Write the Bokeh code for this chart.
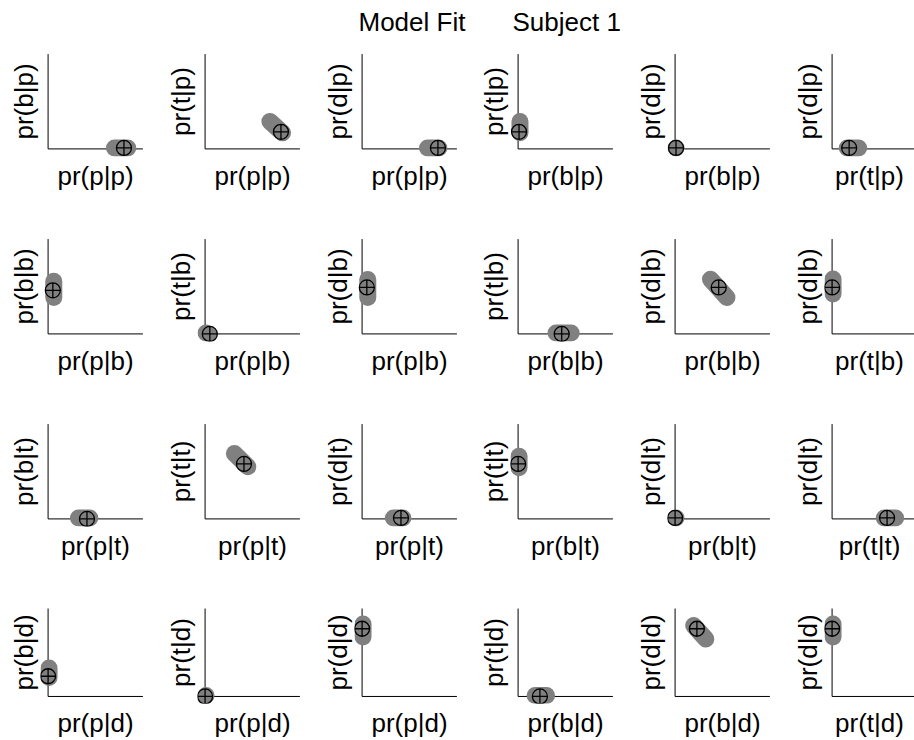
import math

from bokeh.core.properties import value
from bokeh.embed import file_html
from bokeh.layouts import column, gridplot
from bokeh.models import FixedTicker, Range1d
from bokeh.plotting import figure
from bokeh.resources import INLINE

# stimuli (one row each) and response pairs shown in each column (x, y)
stimuli = ["p", "b", "t", "d"]
responses = ["p", "b", "t", "d"]
pairs = [("p", "b"), ("p", "t"), ("p", "d"), ("b", "t"), ("b", "d"), ("t", "d")]

# fitted response probabilities pr(response | stimulus), responses in order p, b, t, d
fit_given_p = [0.80, 0.01, 0.18, 0.01]
fit_given_b = [0.05, 0.46, 0.00, 0.49]
fit_given_t = [0.41, 0.00, 0.58, 0.01]
fit_given_d = [0.00, 0.23, 0.00, 0.77]
fits = [fit_given_p, fit_given_b, fit_given_t, fit_given_d]

# posterior sample clouds, one per panel (row-major): centre, half-length, orientation (deg)
cloud_cx = [0.77, 0.75, 0.75, 0.02, 0.01, 0.22,
            0.06, 0.01, 0.06, 0.48, 0.46, 0.01,
            0.38, 0.38, 0.38, 0.01, 0.01, 0.61,
            0.01, 0.01, 0.01, 0.24, 0.26, 0.01]
cloud_cy = [0.01, 0.23, 0.01, 0.23, 0.01, 0.01,
            0.47, 0.01, 0.48, 0.01, 0.48, 0.50,
            0.01, 0.62, 0.01, 0.60, 0.01, 0.01,
            0.27, 0.01, 0.75, 0.01, 0.73, 0.75]
cloud_half = [0.07, 0.09, 0.06, 0.06, 0.00, 0.06,
              0.085, 0.00, 0.095, 0.08, 0.13, 0.08,
              0.06, 0.10, 0.05, 0.06, 0.00, 0.06,
              0.055, 0.00, 0.075, 0.06, 0.10, 0.075]
cloud_angle = [0, -42, 0, 90, 0, 0,
               90, 0, 90, 0, -48, 90,
               0, -45, 0, 90, 0, 0,
               90, 0, 90, 0, -50, 90]

FONT = "Liberation Sans"
GRAY = "#808080"
PAD = 0.08
FRAME = 110
PX_PER_UNIT = FRAME / (1 + 2 * PAD)
col_widths = [157, 157, 156, 157, 157, 130]
row_heights = [185, 185, 185, 139]
HEAD = 46


def panel(r, c):
    s = stimuli[r]
    xr, yr = pairs[c]
    k = r * len(pairs) + c
    w, h = col_widths[c], row_heights[r]
    last_col = c == len(pairs) - 1
    frame_w = FRAME if not last_col else w - 40
    x_end = -PAD + frame_w / PX_PER_UNIT

    p = figure(width=w, height=h, title=None,
               x_range=Range1d(-PAD, x_end), y_range=Range1d(-PAD, 1 + PAD),
               output_backend="svg", toolbar_location=None,
               min_border_left=40, min_border_right=w - 40 - frame_w,
               min_border_top=0, min_border_bottom=h - FRAME)
    p.outline_line_color = None
    p.grid.visible = False
    p.background_fill_color = "white"
    p.border_fill_color = "white"

    for ax in (p.xaxis[0], p.yaxis[0]):
        ax.ticker = FixedTicker(ticks=[])
        ax.axis_line_color = None
        ax.major_tick_line_color = None
        ax.minor_tick_line_color = None
        ax.major_tick_out = 0
        ax.major_tick_in = 0
        ax.major_label_standoff = 0
        ax.axis_label_text_font = FONT
        ax.axis_label_text_font_size = "26px"
        ax.axis_label_text_font_style = "normal"
        ax.axis_label_text_color = "black"
    p.xaxis[0].axis_label = f"pr({xr}|{s})"
    p.yaxis[0].axis_label = f"pr({yr}|{s})"
    p.xaxis[0].axis_label_standoff = 4
    p.yaxis[0].axis_label_standoff = 2

    # L-shaped axes from the origin
    p.segment(x0=[0, 0], y0=[0, 0], x1=[1, 0], y1=[0, 1], line_color="black", line_width=1)

    # posterior cloud as a rounded band
    a = math.radians(cloud_angle[k])
    dx, dy = cloud_half[k] * math.cos(a), cloud_half[k] * math.sin(a)
    p.segment(x0=[cloud_cx[k] - dx], y0=[cloud_cy[k] - dy],
              x1=[cloud_cx[k] + dx], y1=[cloud_cy[k] + dy],
              line_color=GRAY, line_width=17, line_cap="round")

    # fitted point
    fx = fits[r][responses.index(xr)]
    fy = fits[r][responses.index(yr)]
    p.scatter(x=[fx], y=[fy], marker="circle_cross", size=15,
              fill_color=GRAY, line_color="black", line_width=1.3)
    return p


rows = [[panel(r, c) for c in range(len(pairs))] for r in range(len(stimuli))]
grid = gridplot(rows, toolbar_location=None)

head = figure(width=914, height=HEAD, title=None,
              x_range=Range1d(0, 914), y_range=Range1d(0, HEAD),
              output_backend="svg", toolbar_location=None, min_border=0)
head.axis.visible = False
head.grid.visible = False
head.outline_line_color = None
head.text(x=[358, 512], y=[HEAD - 21.3, HEAD - 21.3], text=["Model Fit", "Subject 1"],
          text_font=value(FONT), text_font_size="26px",
          text_baseline="middle", text_align="left", text_color="black")

page = column(head, grid)
open("out.html", "w").write(file_html(page, INLINE))
